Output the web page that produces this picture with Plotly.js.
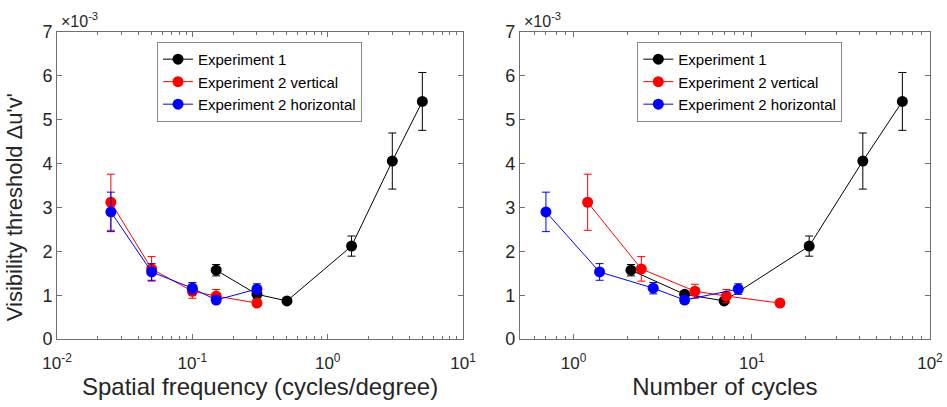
<!DOCTYPE html>
<html>
<head>
<meta charset="utf-8">
<script src="https://cdn.plot.ly/plotly-3.0.1.min.js"></script>
<style>html,body{margin:0;padding:0;background:#fff;}#chart{width:947px;height:407px;}</style>
</head>
<body>
<div id="chart"></div>
<script>
// Experiment 1
var sfExp1 = [0.15, 0.3, 0.5, 1.5, 3, 5];
var cycExp1 = [2.1, 4.2, 7, 21, 42, 70];
var thrExp1 = [1.57, 1.02, 0.87, 2.12, 4.06, 5.42];
var errExp1 = [0.13, 0.07, 0.05, 0.23, 0.64, 0.66];
// Experiment 2
var sfExp2 = [0.025, 0.05, 0.1, 0.15, 0.3];
var cycVert = [1.2, 2.4, 4.8, 7.2, 14.4];
var thrVert = [3.12, 1.60, 1.09, 0.98, 0.82];
var errVert = [0.64, 0.28, 0.16, 0.15, 0.07];
var cycHorz = [0.7, 1.4, 2.8, 4.2, 8.4];
var thrHorz = [2.90, 1.53, 1.16, 0.89, 1.14];
var errHorz = [0.45, 0.19, 0.13, 0.08, 0.12];

var seriesNames = ['Experiment 1', 'Experiment 2 vertical', 'Experiment 2 horizontal'];
var colors = ['#000000', '#ff0000', '#0000ff'];
var yTickVals = [0, 1, 2, 3, 4, 5, 6, 7];
var leftTickVals = [0.01, 0.1, 1, 10];
var leftTickText = ['10<sup>-2</sup>', '10<sup>-1</sup>', '10<sup>0</sup>', '10<sup>1</sup>'];
var rightTickVals = [1, 10, 100];
var rightTickText = ['10<sup>0</sup>', '10<sup>1</sup>', '10<sup>2</sup>'];
var leftMinor = [0.02,0.03,0.04,0.05,0.06,0.07,0.08,0.09,0.2,0.3,0.4,0.5,0.6,0.7,0.8,0.9,2,3,4,5,6,7,8,9];
var rightMinor = [0.6,0.7,0.8,0.9,2,3,4,5,6,7,8,9,20,30,40,50,60,70,80,90];

function mk(x, y, e, i, xa, ya, leg) {
  return {
    x: x, y: y, type: 'scatter', mode: 'lines+markers', name: seriesNames[i],
    xaxis: xa, yaxis: ya, legend: leg,
    line: {color: colors[i], width: 1},
    marker: {color: colors[i], size: 11, symbol: 'circle'},
    error_y: {type: 'data', array: e, visible: true, color: colors[i], thickness: 1, width: 4}
  };
}
function emptyTrace(xa, ya) {
  return {x: [], y: [], type: 'scatter', mode: 'markers', xaxis: xa, yaxis: ya, showlegend: false, hoverinfo: 'skip'};
}

var data = [
  emptyTrace('x3', 'y'),
  emptyTrace('x4', 'y2'),
  mk(sfExp1, thrExp1, errExp1, 0, 'x', 'y', 'legend'),
  mk(sfExp2, thrVert, errVert, 1, 'x', 'y', 'legend'),
  mk(sfExp2, thrHorz, errHorz, 2, 'x', 'y', 'legend'),
  mk(cycExp1, thrExp1, errExp1, 0, 'x2', 'y2', 'legend2'),
  mk(cycVert, thrVert, errVert, 1, 'x2', 'y2', 'legend2'),
  mk(cycHorz, thrHorz, errHorz, 2, 'x2', 'y2', 'legend2')
];

var axCol = '#707070';
var txtCol = '#262626';
var fontFam = 'Liberation Sans, Arial, sans-serif';
var leftRange = [-2, 1];
var rightRange = [Math.log10(0.5), 2];

function xax(dom, rng, tv, tt, title) {
  return {
    domain: dom, type: 'log', range: rng, tickmode: 'array', tickvals: tv, ticktext: tt,
    ticks: 'inside', ticklen: 5, tickcolor: axCol, mirror: 'ticks',
    showline: true, linecolor: axCol, linewidth: 1, showgrid: false, zeroline: false,
    tickfont: {family: fontFam, size: 17, color: txtCol},
    ticklabelstandoff: 9,
    title: {text: title, font: {family: fontFam, size: 24, color: txtCol}, standoff: 4}
  };
}
function minorAx(dom, rng, mv, over, anchor) {
  return {
    domain: dom, type: 'log', range: rng, overlaying: over, anchor: anchor, side: 'bottom',
    tickmode: 'array', tickvals: mv, showticklabels: false,
    ticks: 'inside', ticklen: 3, tickwidth: 1, tickcolor: axCol, mirror: 'ticks',
    showline: false, showgrid: false, zeroline: false
  };
}
function yax(anchor) {
  return {
    domain: [0.167, 0.921], anchor: anchor, range: [0, 7], tickvals: yTickVals,
    ticks: 'inside', ticklen: 5, tickcolor: axCol, mirror: 'ticks',
    showline: true, linecolor: axCol, linewidth: 1, showgrid: false, zeroline: false,
    tickfont: {family: fontFam, size: 18, color: txtCol}
  };
}

var legBase = {
  bgcolor: '#ffffff', bordercolor: '#888888', borderwidth: 1,
  font: {family: fontFam, size: 15, color: '#000000'},
  xanchor: 'left', yanchor: 'top', tracegroupgap: 0
};

var layout = {
  width: 947, height: 407,
  margin: {l: 0, r: 0, t: 0, b: 0},
  paper_bgcolor: '#ffffff', plot_bgcolor: '#ffffff',
  showlegend: true,
  xaxis: xax([0.0602, 0.489], leftRange, leftTickVals, leftTickText, 'Spatial frequency (cycles/degree)'),
  yaxis: yax('x'),
  xaxis2: xax([0.549, 0.982], rightRange, rightTickVals, rightTickText, 'Number of cycles'),
  yaxis2: yax('x2'),
  xaxis3: minorAx([0.0602, 0.489], leftRange, leftMinor, 'x', 'y'),
  xaxis4: minorAx([0.549, 0.982], rightRange, rightMinor, 'x2', 'y2'),
  legend: Object.assign({x: 0.1658, y: 0.897}, legBase),
  legend2: Object.assign({x: 0.673, y: 0.897}, legBase),
  annotations: [
    {xref: 'paper', yref: 'paper', x: 0.0148, y: 0.491, xanchor: 'center', yanchor: 'middle', textangle: -90,
     text: "Visibility threshold \u0394u'v'", showarrow: false, font: {family: fontFam, size: 22, color: txtCol}},
    {xref: 'paper', yref: 'paper', x: 0.062, y: 0.922, xanchor: 'left', yanchor: 'bottom',
     text: '\u00d710<sup>-3</sup>', showarrow: false, font: {family: fontFam, size: 16, color: txtCol}},
    {xref: 'paper', yref: 'paper', x: 0.551, y: 0.922, xanchor: 'left', yanchor: 'bottom',
     text: '\u00d710<sup>-3</sup>', showarrow: false, font: {family: fontFam, size: 16, color: txtCol}}
  ]
};

Plotly.newPlot('chart', data, layout, {displayModeBar: false, staticPlot: true});
</script>
</body>
</html>
